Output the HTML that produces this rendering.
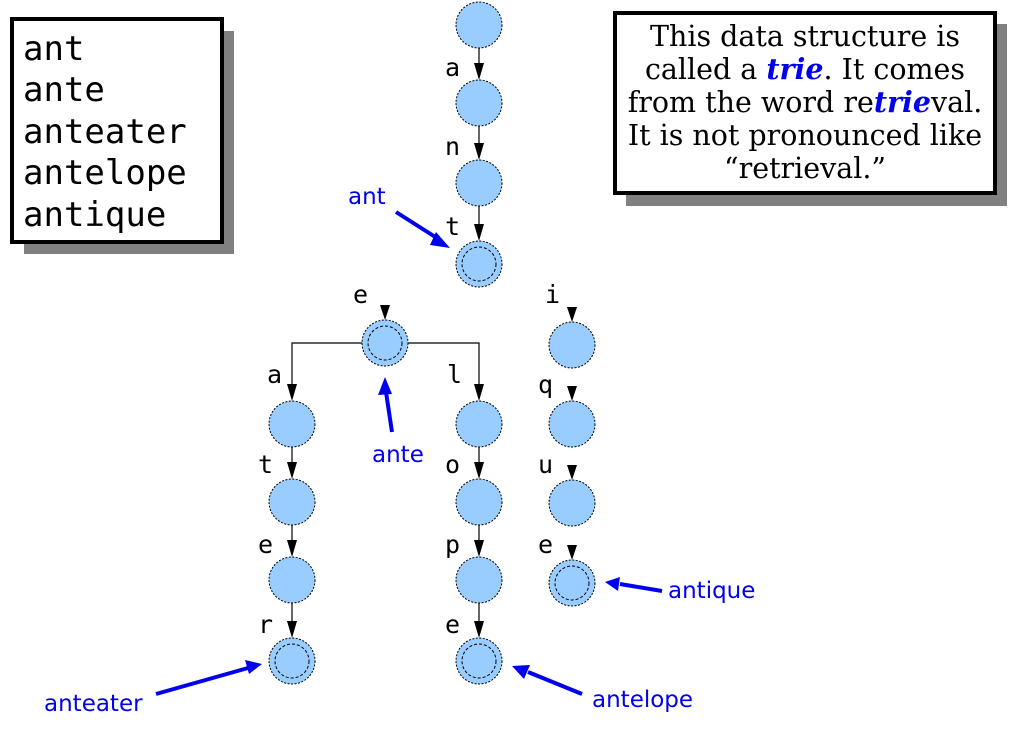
<!DOCTYPE html>
<html><head><meta charset="utf-8"><style>
html,body{margin:0;padding:0;background:#fff;}
svg{display:block}
.m{font-family:"DejaVu Sans Mono","Liberation Mono",monospace;}
.s{font-family:"DejaVu Serif","Liberation Serif",serif;}
.h{font-family:"Comic Sans MS","DejaVu Sans","Liberation Sans",sans-serif;fill:#0000ee;font-size:23px;}
.n{fill:#99ccff;stroke:#000;stroke-width:1;stroke-dasharray:2,1.5}
.i{fill:none;stroke:#000;stroke-width:1;stroke-dasharray:3,2}
</style></head><body>
<svg width="1017" height="746" viewBox="0 0 1017 746" xmlns="http://www.w3.org/2000/svg">
<rect x="24" y="31" width="210" height="223" fill="#808080"/>
<rect x="12" y="19" width="210" height="223" fill="#fff" stroke="#000" stroke-width="4"/>
<g class="m" font-size="34" fill="#000">
<text x="23" y="60">ant</text>
<text x="23" y="101">ante</text>
<text x="23" y="143">anteater</text>
<text x="23" y="184">antelope</text>
<text x="23" y="226">antique</text>
</g>
<rect x="626" y="24" width="381" height="182" fill="#808080"/>
<rect x="615" y="13" width="380" height="180" fill="#fff" stroke="#000" stroke-width="4"/>
<g class="s" font-size="28.5" fill="#000" text-anchor="middle">
<text x="805" y="46">This data structure is</text>
<text x="805" y="79">called a <tspan fill="#0000ee" font-weight="bold" font-style="italic">trie</tspan>. It comes</text>
<text x="805" y="112">from the word re<tspan fill="#0000ee" font-weight="bold" font-style="italic">trie</tspan>val.</text>
<text x="805" y="145">It is not pronounced like</text>
<text x="805" y="178">“retrieval.”</text>
</g>
<g stroke="#000" stroke-width="1.2" fill="none">
<line x1="479" y1="48" x2="479" y2="66"/>
<line x1="479" y1="126" x2="479" y2="146"/>
<line x1="479" y1="206" x2="479" y2="227"/>
<path d="M362,343 H292 V387"/>
<path d="M408,343 H479 V387"/>
<line x1="292" y1="447" x2="292" y2="465"/>
<line x1="292" y1="525" x2="292" y2="543"/>
<line x1="292" y1="603" x2="292" y2="624"/>
<line x1="479" y1="447" x2="479" y2="465"/>
<line x1="479" y1="525" x2="479" y2="543"/>
<line x1="479" y1="603" x2="479" y2="624"/>
</g>
<g fill="#000">
<path d="M474,63 L484,63 L479,80 z"/>
<path d="M474,143 L484,143 L479,160 z"/>
<path d="M474,224 L484,224 L479,241 z"/>
<path d="M287,384 L297,384 L292,401 z"/>
<path d="M474,384 L484,384 L479,401 z"/>
<path d="M287,462 L297,462 L292,479 z"/>
<path d="M287,540 L297,540 L292,557 z"/>
<path d="M287,621 L297,621 L292,638 z"/>
<path d="M474,462 L484,462 L479,479 z"/>
<path d="M474,540 L484,540 L479,557 z"/>
<path d="M474,621 L484,621 L479,638 z"/>
<path d="M380,305 L390,305 L385,320 z"/>
<path d="M567,307 L577,307 L572,322 z"/>
<path d="M567,386 L577,386 L572,401 z"/>
<path d="M567,465 L577,465 L572,480 z"/>
<path d="M567,545 L577,545 L572,560 z"/>
</g>
<g>
<circle class="n" cx="479" cy="25" r="23"/>
<circle class="n" cx="479" cy="103" r="23"/>
<circle class="n" cx="479" cy="183" r="23"/>
<circle class="n" cx="479" cy="264" r="23"/><circle class="i" cx="479" cy="264" r="17"/>
<circle class="n" cx="385" cy="343" r="23"/><circle class="i" cx="385" cy="343" r="17"/>
<circle class="n" cx="292" cy="424" r="23"/>
<circle class="n" cx="292" cy="502" r="23"/>
<circle class="n" cx="292" cy="580" r="23"/>
<circle class="n" cx="292" cy="661" r="23"/><circle class="i" cx="292" cy="661" r="17"/>
<circle class="n" cx="479" cy="424" r="23"/>
<circle class="n" cx="479" cy="502" r="23"/>
<circle class="n" cx="479" cy="580" r="23"/>
<circle class="n" cx="479" cy="661" r="23"/><circle class="i" cx="479" cy="661" r="17"/>
<circle class="n" cx="572" cy="345" r="23"/>
<circle class="n" cx="572" cy="424" r="23"/>
<circle class="n" cx="572" cy="503" r="23"/>
<circle class="n" cx="572" cy="583" r="23"/><circle class="i" cx="572" cy="583" r="17"/>
</g>
<g class="m" font-size="25" fill="#000">
<text x="445" y="76">a</text>
<text x="445" y="155">n</text>
<text x="445" y="235">t</text>
<text x="353" y="303">e</text>
<text x="545" y="303">i</text>
<text x="267" y="383">a</text>
<text x="447" y="383">l</text>
<text x="538" y="393">q</text>
<text x="258" y="473">t</text>
<text x="445" y="473">o</text>
<text x="538" y="473">u</text>
<text x="258" y="553">e</text>
<text x="445" y="553">p</text>
<text x="538" y="553">e</text>
<text x="258" y="633">r</text>
<text x="445" y="633">e</text>
</g>
<g stroke="#0000ee" stroke-width="4" fill="none">
<line x1="396" y1="212" x2="440" y2="240"/>
<line x1="392" y1="432" x2="386" y2="392"/>
<line x1="156" y1="694" x2="248" y2="668"/>
<line x1="582" y1="694" x2="528" y2="672"/>
<line x1="662" y1="591" x2="620" y2="584"/>
</g>
<g fill="#0000ee">
<path d="M450,248 L436,232 L430,245 z"/>
<path d="M385,377 L378,395 L392,394 z"/>
<path d="M262,664 L245,660 L249,674 z"/>
<path d="M512,666 L524,679 L530,665 z"/>
<path d="M605,582 L620,577 L618,591 z"/>
</g>
<text class="h" x="348" y="204">ant</text>
<text class="h" x="372" y="462">ante</text>
<text class="h" x="44" y="711">anteater</text>
<text class="h" x="592" y="707">antelope</text>
<text class="h" x="668" y="598">antique</text>
</svg>
</body></html>
